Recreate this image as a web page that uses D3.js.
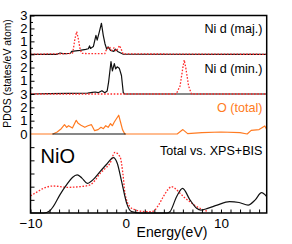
<!DOCTYPE html>
<html>
<head>
<meta charset="utf-8">
<script src="https://cdn.jsdelivr.net/npm/d3@7"></script>
<style>
  body { margin: 0; background: #fff; }
  text { font-family: "Liberation Sans", Arial, Helvetica, sans-serif; }
</style>
</head>
<body>
<div class="chart"></div>
<script>
const margin = ({top: 15.5, right: 25.3, bottom: 31, left: 30.5})
const width = 292 - margin.left - margin.right;
const height = 244 - margin.top - margin.bottom;

// Ni d majority spin
const majEnergy = [-10, -7.2, -6.9, -6.6, -6.3, -5.8, -5.68, -4.8, -4.2, -3.93, -3.8, -3.7, -3.4, -3.13, -3.0, -2.78, -2.55, -2.36, -2.18, -2.0, -1.85, -1.6, -1.25, -1.1, -0.8, -0.3, 14.8]
const majBlack  = [0, 0, 0.1, 0.05, 0.05, 0.08, 0.23, 0.3, 0.38, 0.43, 0.65, 0.45, 0.6, 1.47, 1.1, 1.72, 2.4, 1.47, 0.82, 0.4, 0.57, 0.3, 0.23, 0.4, 0.2, 0.02, 0]
const majRedEnergy = [-10, -8, -6, -5.57, -5.33, -5.15, -4.98, -4.8, -4.63, -4.0, -3.0, -2.2, -2.0, -1.7, -1.5, -1.25, -1.0, -0.65, -0.5, -0.28, 14.8]
const majRed       = [0, 0.03, 0.05, 0.1, 1.21, 1.75, 1.2, 0.43, 0.08, 0.05, 0.05, 0.05, 0.43, 0.58, 0.3, 0.5, 0.23, 0.68, 0.43, 0.03, 0]

// Ni d minority spin
const minEnergy = [-10, -8, -6, -4, -3.5, -3.2, -2.9, -2.5, -2.2, -1.95, -1.8, -1.55, -1.4, -1.2, -1.06, -0.9, -0.68, -0.45, -0.26, -0.1, 14.8]
const minBlack  = [0, 0.03, 0.05, 0.07, 0.12, 0.15, 0.1, 0.25, 0.1, 0.23, 0.9, 2.44, 1.75, 2.3, 1.9, 2.05, 1.95, 1.4, 0.1, 0, 0]
const minRedEnergy = [-10, 5.3, 5.7, 6.0, 6.14, 6.3, 6.6, 6.9, 14.8]
const minRed       = [0, 0, 0.6, 2.0, 2.57, 2.0, 0.6, 0, 0]

// O total
const oEnergy = [-10, -7.64, -7.2, -6.77, -6.43, -6.2, -6.0, -5.6, -5.2, -5.0, -4.7, -4.3, -3.97, -3.6, -3.27, -2.9, -2.6, -2.35, -2.1, -1.85, -1.6, -1.4, -1.2, -0.74, -0.55, -0.34, -0.1, 5.4, 6.0, 6.5, 8.0, 10.0, 12.0, 12.75, 13.17, 14.0, 14.6, 14.8]
const oTotal  = [0, 0, 0.15, 0.4, 0.7, 0.5, 0.62, 0.45, 1.03, 0.8, 0.65, 0.5, 0.62, 0.7, 0.25, 0.33, 0.5, 0.4, 0.62, 0.5, 0.78, 0.62, 0.9, 1.41, 0.9, 0.33, 0, 0, 0.33, 0.03, 0.1, 0.15, 0.1, 0, 0.27, 0.33, 0.6, 0.35]
const oBlackEnergy = [-7.7, 0]
const oBlack       = [0, 0]

// Total DOS vs XPS+BIS
const totEnergy = [-10, -8.6, -8.0, -7.6, -6.9, -6.2, -5.6, -5.1, -4.6, -4.04, -3.4, -2.7, -2.0, -1.3, -0.9, -0.43, 0.1, 0.62, 1.5, 4.3, 4.64, 5.34, 5.97, 6.74, 7.44, 7.9, 8.6, 9.6, 10.9, 11.9, 12.85, 13.6, 14.26, 14.8]
const totBlack  = [0, 0, 0.15, 0.5, 1.4, 2.15, 2.7, 2.9, 2.65, 2.25, 2.55, 3.14, 3.7, 4.2, 3.8, 2.38, 0.73, 0.1, 0, 0, 0.1, 1.24, 1.87, 1.0, 0.36, 0.22, 0.35, 0.6, 0.86, 0.8, 0.6, 1.0, 1.54, 1.24]
const expEnergy = [-10, -9.3, -8.65, -7.6, -6.2, -4.8, -3.75, -3.2, -2.7, -2.2, -1.66, -1.13, -0.6, -0.3, -0.08, 0.44, 0.97, 1.8, 2.5, 2.9, 3.4, 3.94, 4.4, 4.8, 5.2, 5.7, 6.2, 6.74, 7.3, 7.8, 8.66]
const expRed    = [1.3, 1.6, 1.87, 2.05, 1.95, 2.0, 2.13, 2.5, 3.0, 3.35, 3.77, 4.6, 4.27, 3.0, 1.5, 0.48, 0.25, 0.12, 0.1, 0.15, 0.55, 1.24, 1.75, 2.0, 1.85, 1.5, 1.15, 0.86, 0.55, 0.36, 0.1]

const xTicks = d3.range(-10, 15, 1)
const xLabels = [-10, 0, 10]

const black = '#111', red = '#ff2a2a', orange = '#ff7b22'

const svg = d3.select('.chart').append('svg')
    .attr("width", width + margin.left + margin.right)
    .attr("height", height + margin.top + margin.bottom)
    .append("g")
    .attr("transform", "translate(" + margin.left + "," + margin.top + ")");

svg.append('clipPath').attr('id', 'clip')
    .append('rect').attr('x', 0).attr('y', -2).attr('width', width).attr('height', height + 4)

const xScale = d3.scaleLinear()
    .domain([-10, 14.8])
    .range([0, width])

// panel edges in px, top to bottom
const edges = [0, 38.8, 78.5, 118.5, height]
const panels = [
  {max: 3, label: 'Ni d (maj.)', color: '#000', yticks: d3.range(0.5, 3.01, 0.5), labels: [1, 2, 3],
   series: [{e: majEnergy, v: majBlack, c: black}, {e: majRedEnergy, v: majRed, c: red, dash: true}]},
  {max: 3, label: 'Ni d (min.)', color: '#000', yticks: d3.range(0.5, 3.01, 0.5), labels: [1, 2, 3],
   series: [{e: minEnergy, v: minBlack, c: black}, {e: minRedEnergy, v: minRed, c: red, dash: true}]},
  {max: 3, label: 'O (total)', color: orange, yticks: d3.range(0.5, 3.01, 0.5), labels: [0, 1, 2, 3],
   series: [{e: oEnergy, v: oTotal, c: orange}, {e: oBlackEnergy, v: oBlack, c: black}]},
  {max: 6, label: 'Total vs. XPS+BIS', color: '#000', yticks: d3.range(1, 6, 1), labels: [],
   series: [{e: expEnergy, v: expRed, c: red, dash: true, smooth: true}, {e: totEnergy, v: totBlack, c: black, smooth: true}]}
]

panels.forEach((p, i) => {
  const yScale = d3.scaleLinear()
      .domain([0, p.max])
      .range([edges[i + 1], edges[i]])

  // inward ticks
  svg.append('g')
      .attr('class', 'axis y-axis')
      .call(d3.axisLeft(yScale).tickValues(p.yticks).tickSizeInner(-3).tickSizeOuter(0).tickFormat(''))
      .call(g => g.select('.domain').remove())
      .call(g => g.selectAll('line').attr('x2', d => Number.isInteger(d) ? 4 : 2.5).attr('stroke', '#000'))

  const yAxis = d3.axisLeft(yScale).tickValues(p.labels).tickSize(0).tickPadding(3)
      .tickFormat(d3.format('d'))
  svg.append('g')
      .attr('class', 'axis y-labels')
      .call(yAxis)
      .call(g => g.select('.domain').remove())
      .call(g => g.selectAll('text').attr('font-size', 13).attr('font-family', '"Liberation Sans", Arial, sans-serif').attr('fill', '#000'))

  p.series.forEach(s => {
    const pts = s.e.map((e, k) => [e, s.v[k]])
    const line = d3.line()
        .x(d => xScale(d[0]))
        .y(d => yScale(d[1]))
        .curve(s.smooth ? d3.curveMonotoneX : d3.curveLinear)
    svg.append('path')
        .datum(pts)
        .attr('clip-path', 'url(#clip)')
        .attr('d', line)
        .attr('fill', 'none')
        .attr('stroke', s.c)
        .attr('stroke-width', s.dash ? 1.3 : 1.2)
        .attr('stroke-dasharray', s.dash ? '1.6,1.6' : null)
        .attr('stroke-linejoin', 'round')
  })

  svg.append('text')
      .attr('x', 232)
      .attr('y', [17.8, 57.2, 96.2, 139.8][i])
      .attr('text-anchor', 'end')
      .attr('font-size', 12.6)
      .attr('fill', p.color)
      .text(p.label)
})

const xAxis = d3.axisBottom()
    .scale(xScale)
    .tickValues(xTicks)
    .tickSizeInner(-3.5)
    .tickSizeOuter(0)
    .tickFormat('')

svg.append("g")
    .attr("class", "axis x-axis")
    .attr("transform", `translate(0, ${height})`)
    .call(xAxis)
    .call(g => g.select('.domain').remove())
    .call(g => g.selectAll('line').attr('stroke', '#000'))

svg.append("g")
    .attr("class", "axis x-labels")
    .attr("transform", `translate(0, ${height})`)
    .call(d3.axisBottom(xScale).tickValues(xLabels).tickSize(0).tickPadding(5)
        .tickFormat(d => d < 0 ? '\u2212' + Math.abs(d) : d))
    .call(g => g.select('.domain').remove())
    .call(g => g.selectAll('text').attr('font-size', 13.5).attr('font-family', '"Liberation Sans", Arial, sans-serif').attr('fill', '#000'))

// frame
svg.append('rect')
    .attr('x', 0).attr('y', 0)
    .attr('width', width).attr('height', height)
    .attr('fill', 'none')
    .attr('stroke', '#000')
    .attr('stroke-width', 1.5)

svg.append('text')
    .attr('x', 10)
    .attr('y', 147)
    .attr('font-size', 20)
    .text('NiO')

svg.append('text')
    .attr('x', 141.5)
    .attr('y', 221)
    .attr('text-anchor', 'middle')
    .attr('font-size', 14)
    .text('Energy(eV)')

svg.append('text')
    .attr('class', 'yaxisTitle')
    .attr('transform', 'rotate(-90)')
    .attr('x', -58)
    .attr('y', -20)
    .attr('font-size', 10.4)
    .style('text-anchor', 'middle')
    .text('PDOS (states/eV atom)')
</script>
</body>
</html>
